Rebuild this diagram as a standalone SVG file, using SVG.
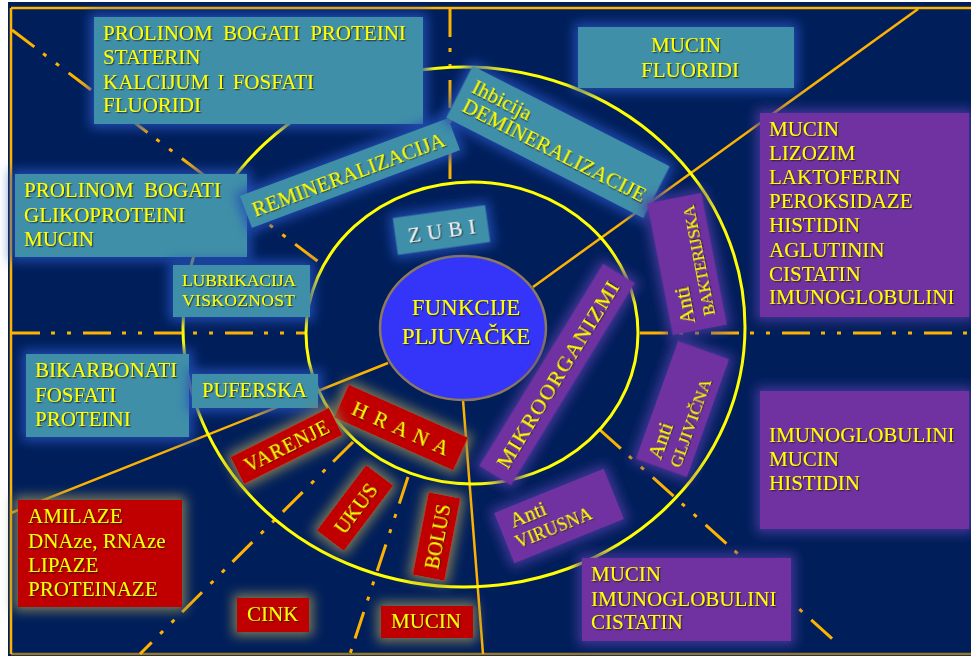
<svg xmlns="http://www.w3.org/2000/svg" width="971" height="656" viewBox="0 0 971 656" font-size="21">
<defs>
<style>
.t{font-family:"Liberation Serif","Times New Roman",serif;fill:#ffff00}
.teal{fill:#418fa8}
.purp{fill:#7030a0}
.red{fill:#c00000}
.dd{stroke:#ffb300;stroke-width:3;stroke-dasharray:28 11 4 12 4 12;fill:none}
.sol{stroke:#ffb300;stroke-width:2.5;fill:none}
.ring{fill:none;stroke:#ffff00;stroke-width:3}
</style>
<filter id="gT" x="-40%" y="-80%" width="180%" height="260%">
<feMorphology in="SourceAlpha" operator="dilate" radius="4" result="d"/>
<feGaussianBlur in="d" stdDeviation="6" result="b"/>
<feFlood flood-color="#2450b8" flood-opacity="0.9"/>
<feComposite in2="b" operator="in" result="g"/>
<feMerge><feMergeNode in="g"/><feMergeNode in="SourceGraphic"/></feMerge>
</filter>
<filter id="gP" x="-40%" y="-80%" width="180%" height="260%">
<feMorphology in="SourceAlpha" operator="dilate" radius="4" result="d"/>
<feGaussianBlur in="d" stdDeviation="6" result="b"/>
<feFlood flood-color="#4a3aa0" flood-opacity="0.9"/>
<feComposite in2="b" operator="in" result="g"/>
<feMerge><feMergeNode in="g"/><feMergeNode in="SourceGraphic"/></feMerge>
</filter>
<filter id="gR" x="-40%" y="-80%" width="180%" height="260%">
<feMorphology in="SourceAlpha" operator="dilate" radius="4" result="d"/>
<feGaussianBlur in="d" stdDeviation="6" result="b"/>
<feFlood flood-color="#7f7d58" flood-opacity="0.95"/>
<feComposite in2="b" operator="in" result="g"/>
<feMerge><feMergeNode in="g"/><feMergeNode in="SourceGraphic"/></feMerge>
</filter>
<filter id="ts" x="-10%" y="-30%" width="120%" height="160%">
<feDropShadow dx="1.2" dy="1.2" stdDeviation="0.6" flood-color="#1a1a1a" flood-opacity="0.7"/>
</filter>
</defs>

<rect x="0" y="0" width="971" height="656" fill="#ffffff"/>
<rect x="8" y="2" width="963" height="654" fill="#001e5a"/>

<g id="frame" class="sol">
<line x1="11" y1="8" x2="971" y2="8"/>
<line x1="11" y1="8" x2="11" y2="654"/>
<line x1="11" y1="654" x2="971" y2="654" stroke-opacity="0.6"/>
</g>

<g id="connectors">
<line class="dd" x1="450" y1="9" x2="450" y2="183"/>
<line class="dd" x1="12" y1="333" x2="306" y2="333"/>
<line class="dd" x1="640" y1="333" x2="971" y2="333"/>
<line class="dd" x1="12" y1="30" x2="320" y2="263"/>
<line class="dd" x1="353" y1="442" x2="140" y2="654"/>
<line class="dd" x1="408" y1="477" x2="350" y2="654"/>
<line class="dd" x1="600" y1="430" x2="837" y2="643"/>
<line class="sol" x1="533" y1="287" x2="918" y2="9"/>
<line class="sol" x1="388" y1="363" x2="11" y2="513"/>
<line class="sol" x1="463" y1="400" x2="483" y2="654"/>
</g>

<g id="rings">
<ellipse class="ring" cx="464" cy="327" rx="281" ry="260"/>
<ellipse class="ring" cx="472" cy="333" rx="166" ry="151" stroke-width="3.5"/>
</g>

<g id="center">
<ellipse cx="463" cy="328" rx="83" ry="72" fill="#3535fa" stroke="#8c7a5a" stroke-width="2.5"/>
<g filter="url(#ts)" class="t" font-size="23" text-anchor="middle">
<text x="466" y="315">FUNKCIJE</text>
<text x="466" y="344">PLJUVAČKE</text>
</g>
</g>

<g id="n-prolinom-proteini">
<rect class="teal" x="94" y="17" width="329" height="107" filter="url(#gT)"/>
<g class="t" filter="url(#ts)">
<text x="103" y="40" word-spacing="5">PROLINOM BOGATI PROTEINI</text>
<text x="103" y="64">STATERIN</text>
<text x="103" y="89" word-spacing="3">KALCIJUM I FOSFATI</text>
<text x="103" y="112">FLUORIDI</text>
</g>
</g>

<g id="n-prolinom-glikoproteini">
<rect class="teal" x="15" y="174" width="232" height="83" filter="url(#gT)"/>
<g class="t" filter="url(#ts)">
<text x="24" y="197" word-spacing="5">PROLINOM BOGATI</text>
<text x="24" y="222">GLIKOPROTEINI</text>
<text x="24" y="246">MUCIN</text>
</g>
</g>

<g id="n-lubrikacija">
<rect class="teal" x="173" y="265" width="137" height="52" filter="url(#gT)"/>
<g class="t" font-size="17.5" filter="url(#ts)">
<text x="182" y="286" textLength="114">LUBRIKACIJA</text>
<text x="182" y="306" textLength="113">VISKOZNOST</text>
</g>
</g>

<g id="n-remineralizacija" transform="translate(350,173) rotate(-20.5)">
<rect class="teal" x="-111" y="-17" width="222" height="34" filter="url(#gT)"/>
<text class="t" x="-2" y="7.5" text-anchor="middle" filter="url(#ts)" textLength="204">REMINERALIZACIJA</text>
</g>

<g id="n-demineralizacija" transform="translate(558,142) rotate(27)">
<rect class="teal" x="-110.5" y="-29" width="221" height="58" filter="url(#gT)"/>
<g class="t" filter="url(#ts)">
<text x="-101" y="-5">Ihbicija</text>
<text x="-101" y="16" textLength="203">DEMINERALIZACIJE</text>
</g>
</g>

<g id="n-zubi" transform="translate(441.5,230) rotate(-8)">
<rect class="teal" x="-46.5" y="-18.5" width="93" height="37" filter="url(#gT)"/>
<text class="t" x="0" y="7.5" text-anchor="middle" style="fill:#f2f2f2" filter="url(#ts)" textLength="68">Z U B I</text>
</g>

<g id="n-mucin-fluoridi">
<rect class="teal" x="578" y="27" width="216" height="61" filter="url(#gT)"/>
<g class="t" text-anchor="middle" filter="url(#ts)">
<text x="686" y="52">MUCIN</text>
<text x="690" y="77">FLUORIDI</text>
</g>
</g>

<g id="n-antibakterijska-list">
<rect class="purp" x="760" y="113" width="209" height="204" filter="url(#gP)"/>
<g class="t" filter="url(#ts)">
<text x="769" y="136">MUCIN</text>
<text x="769" y="160">LIZOZIM</text>
<text x="769" y="184">LAKTOFERIN</text>
<text x="769" y="208">PEROKSIDAZE</text>
<text x="769" y="232">HISTIDIN</text>
<text x="769" y="257">AGLUTININ</text>
<text x="769" y="281">CISTATIN</text>
<text x="769" y="304">IMUNOGLOBULINI</text>
</g>
</g>

<g id="n-antibakterijska" transform="translate(687,264) rotate(-101)">
<rect class="purp" x="-67" y="-27.5" width="134" height="55" filter="url(#gP)"/>
<g class="t" filter="url(#ts)">
<text x="-59" y="-3">Anti</text>
<text x="-55" y="18" font-size="17" textLength="112">BAKTERIJSKA</text>
</g>
</g>

<g id="n-mikroorganizmi" transform="translate(557,374.5) rotate(-58.5)">
<rect class="purp" x="-118.5" y="-18.5" width="237" height="37" filter="url(#gP)"/>
<text class="t" x="0" y="7.5" font-size="22" text-anchor="middle" filter="url(#ts)" textLength="215">MIKROORGANIZMI</text>
</g>

<g id="n-antigljivicna" transform="translate(682.5,409) rotate(-70.3)">
<rect class="purp" x="-62.5" y="-27" width="125" height="54" filter="url(#gP)"/>
<g class="t" filter="url(#ts)">
<text x="-56" y="-3">Anti</text>
<text x="-57" y="18" font-size="17.5" textLength="93">GLJIVIČNA</text>
</g>
</g>

<g id="n-antigljivicna-list">
<rect class="purp" x="760" y="391" width="209" height="138" filter="url(#gP)"/>
<g class="t" filter="url(#ts)">
<text x="769" y="442">IMUNOGLOBULINI</text>
<text x="769" y="466">MUCIN</text>
<text x="769" y="490">HISTIDIN</text>
</g>
</g>

<g id="n-antivirusna" transform="translate(559,516) rotate(-22)">
<rect class="purp" x="-59" y="-27" width="118" height="54" filter="url(#gP)"/>
<g class="t" filter="url(#ts)">
<text x="-47" y="-6">Anti</text>
<text x="-50" y="15" font-size="18" textLength="81">VIRUSNA</text>
</g>
</g>

<g id="n-antivirusna-list">
<rect class="purp" x="582" y="558" width="209" height="83" filter="url(#gP)"/>
<g class="t" filter="url(#ts)">
<text x="591" y="581">MUCIN</text>
<text x="591" y="606">IMUNOGLOBULINI</text>
<text x="591" y="629">CISTATIN</text>
</g>
</g>

<g id="n-bikarbonati">
<rect class="teal" x="26" y="354" width="163" height="83" filter="url(#gT)"/>
<g class="t" filter="url(#ts)">
<text x="35" y="377">BIKARBONATI</text>
<text x="35" y="402">FOSFATI</text>
<text x="35" y="426">PROTEINI</text>
</g>
</g>

<g id="n-puferska">
<rect class="teal" x="192" y="374" width="126" height="34" filter="url(#gT)"/>
<text class="t" x="202" y="397" font-size="20.5" filter="url(#ts)">PUFERSKA</text>
</g>

<g id="n-hrana" transform="translate(401,427.5) rotate(24)">
<rect class="red" x="-65.5" y="-18" width="131" height="36" filter="url(#gR)"/>
<text class="t" x="0" y="7.5" text-anchor="middle" filter="url(#ts)" textLength="104">H R A N A</text>
</g>

<g id="n-varenje" transform="translate(286.5,446) rotate(-26.6)">
<rect class="red" x="-55" y="-15.5" width="110" height="31" filter="url(#gR)"/>
<text class="t" x="0" y="7" font-size="20" text-anchor="middle" filter="url(#ts)" textLength="92">VARENJE</text>
</g>

<g id="n-ukus" transform="translate(355,508) rotate(-53)">
<rect class="red" x="-41" y="-17" width="82" height="34" filter="url(#gR)"/>
<text class="t" x="0" y="7.5" text-anchor="middle" filter="url(#ts)">UKUS</text>
</g>

<g id="n-bolus" transform="translate(436.5,536.5) rotate(-79)">
<rect class="red" x="-42" y="-16.5" width="84" height="33" filter="url(#gR)"/>
<text class="t" x="0" y="7.5" font-size="20" text-anchor="middle" filter="url(#ts)">BOLUS</text>
</g>

<g id="n-amilaze">
<rect class="red" x="18" y="500" width="164" height="107" filter="url(#gR)"/>
<g class="t" filter="url(#ts)">
<text x="28" y="523">AMILAZE</text>
<text x="28" y="548">DNAze, RNAze</text>
<text x="28" y="572">LIPAZE</text>
<text x="28" y="596">PROTEINAZE</text>
</g>
</g>

<g id="n-cink">
<rect class="red" x="237" y="598" width="72" height="34" filter="url(#gR)"/>
<text class="t" x="247" y="621" filter="url(#ts)">CINK</text>
</g>

<g id="n-mucin-bolus">
<rect class="red" x="381" y="606" width="92" height="32" filter="url(#gR)"/>
<text class="t" x="391" y="628" filter="url(#ts)">MUCIN</text>
</g>
</svg>
